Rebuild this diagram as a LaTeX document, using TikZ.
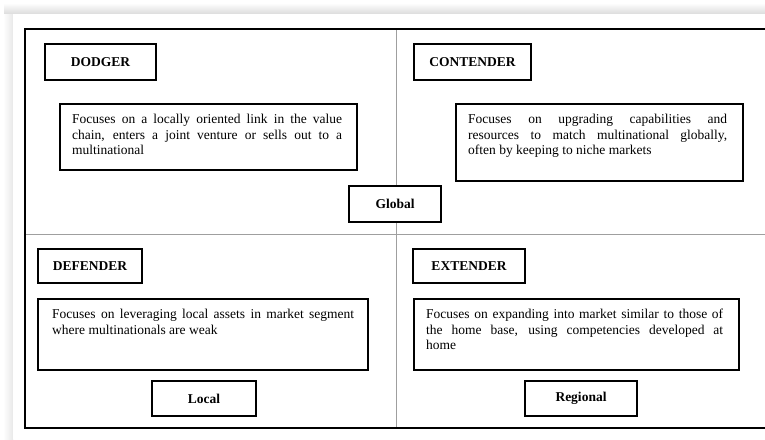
\documentclass[tikz,border=0pt]{standalone}
\usepackage{fontspec}
\setmainfont{Liberation Serif}
\begin{document}
\begin{tikzpicture}[x=1pt,y=-1pt,
  lbl/.style={draw=black, line width=2pt, fill=white, inner sep=0pt, font=\fontsize{13.5}{15.5}\selectfont\bfseries},
  desc/.style={draw=black, line width=2pt, fill=white, inner sep=0pt},
  body/.style={anchor=base west, inner sep=0pt, align=justify, font=\fontsize{13.5}{15.5}\selectfont},
  divider/.style={draw=gray!75, line width=0.9pt}]
\useasboundingbox (0,0) rectangle (765,439);
\clip (0,0) rectangle (765,439);
% page shadow
\shade[top color=white, bottom color=gray!28] (4,3) rectangle (765,14);
\shade[left color=white, right color=gray!18] (3,14) rectangle (13,439);
\fill[white] (13,14) rectangle (765,439);
% frame and dividers
\coordinate (ftl) at (25,29);
\coordinate (ftr) at (780,29);
\coordinate (fbl) at (25,428);
\coordinate (fbr) at (780,428);
\coordinate (vt) at (396,29);
\coordinate (vb) at (396,428);
\coordinate (hl) at (25,234);
\coordinate (hr) at (780,234);
\draw[divider] (vt) -- (vb);
\draw[divider] (hl) -- (hr);
\draw[line width=2.5pt] (ftr) -- (ftl) -- (fbl) -- (fbr);
% label boxes
\node[lbl, minimum width=111pt, minimum height=36pt] (dodger) at (100.5,62) {DODGER};
\node[lbl, minimum width=117pt, minimum height=36pt] (contender) at (472.5,62) {CONTENDER};
\node[lbl, minimum width=104pt, minimum height=34pt] (defender) at (90,266) {DEFENDER};
\node[lbl, minimum width=112pt, minimum height=34pt] (extender) at (469,266) {EXTENDER};
\node[lbl, minimum width=92pt, minimum height=36pt] (global) at (395,204) {Global};
\node[lbl, minimum width=104pt, minimum height=35pt] (local) at (204,398.5) {Local};
\node[lbl, minimum width=112pt, minimum height=35pt] (regional) at (581,398.5) {Regional};
% description boxes
\node[desc, minimum width=297pt, minimum height=66pt] (dodgerbox) at (208.5,137) {};
\node[desc, minimum width=287pt, minimum height=77pt] (contenderbox) at (599.5,142.5) {};
\node[desc, minimum width=330pt, minimum height=71pt] (defenderbox) at (203,334.5) {};
\node[desc, minimum width=325pt, minimum height=71pt] (extenderbox) at (576.5,334.5) {};
% description texts
\node[body, text width=270pt] (dodgertext) at ([shift={(13,20.5)}]dodgerbox.north west)
  {Focuses on a locally oriented link in the value\linebreak chain, enters a joint venture or sells out to a\linebreak multinational};
\node[body, text width=259pt] (contendertext) at ([shift={(13,20.5)}]contenderbox.north west)
  {Focuses on upgrading capabilities and\linebreak resources to match multinational globally,\linebreak often by keeping to niche markets};
\node[body, text width=302pt] (defendertext) at ([shift={(15,20.5)}]defenderbox.north west)
  {Focuses on leveraging local assets in market segment\linebreak where multinationals are weak};
\node[body, text width=297pt] (extendertext) at ([shift={(13,20.5)}]extenderbox.north west)
  {Focuses on expanding into market similar to those of\linebreak the home base, using competencies developed at\linebreak home};
\end{tikzpicture}
\end{document}
